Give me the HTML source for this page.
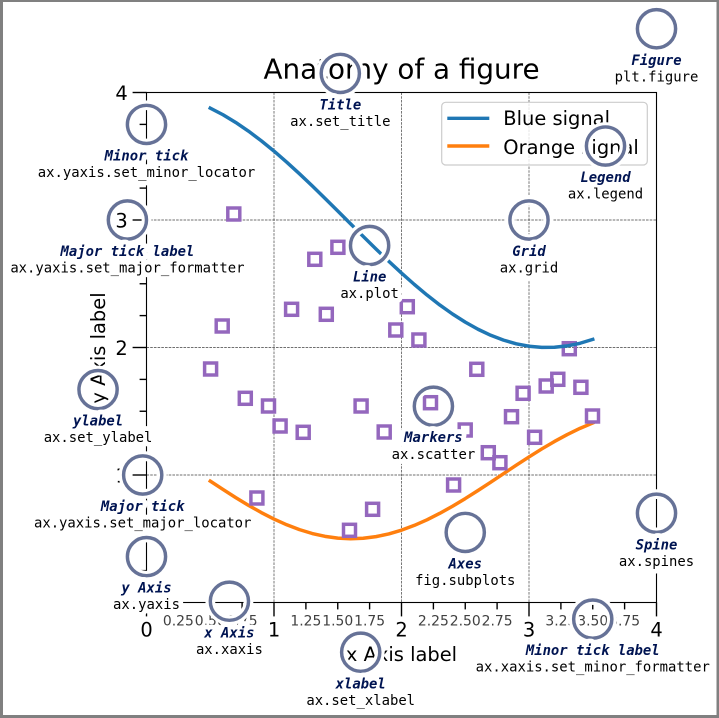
<!DOCTYPE html>
<html><head><meta charset="utf-8"><style>
html,body{margin:0;padding:0;background:#fff;}
svg{display:block;}
.tk{stroke:#000;stroke-width:1.39;}
.gr{stroke:#404040;stroke-width:0.7;stroke-dasharray:2.6 1.1;}
.mk{fill:none;stroke:#9467bd;stroke-width:3.47;}
.ml{font-family:"DejaVu Sans","Liberation Sans",sans-serif;font-size:19.44px;fill:#000;}
.mn{font-family:"DejaVu Sans","Liberation Sans",sans-serif;font-size:13.9px;fill:#404040;}
.lw{font-family:"DejaVu Sans Mono","Liberation Mono",monospace;font-size:13.9px;font-weight:bold;font-style:italic;fill:#fff;stroke:#fff;stroke-width:9.72;stroke-linejoin:round;}
.cw{font-family:"DejaVu Sans Mono","Liberation Mono",monospace;font-size:13.9px;fill:#fff;stroke:#fff;stroke-width:9.72;stroke-linejoin:round;}
.l{font-family:"DejaVu Sans Mono","Liberation Mono",monospace;font-size:13.9px;font-weight:bold;font-style:italic;fill:#001452;}
.c{font-family:"DejaVu Sans Mono","Liberation Mono",monospace;font-size:13.9px;fill:#000;}
.cw,.lw,.l,.c{text-anchor:middle;}
.ch{fill:none;stroke:#fff;stroke-width:9.72;}
.cr{fill:none;stroke:rgba(0,20,82,0.6);stroke-width:3.47;}
</style></head><body>
<svg width="719" height="718" viewBox="0 0 719 718" xmlns="http://www.w3.org/2000/svg">
<rect x="0" y="0" width="719" height="718" fill="#fff"/>
<!-- figure border -->
<rect x="0" y="0" width="719" height="2" fill="#808080"/>
<rect x="0" y="715" width="719" height="3" fill="#808080"/>
<rect x="0" y="0" width="3" height="718" fill="#808080"/>
<rect x="716.5" y="0" width="2.5" height="718" fill="#808080"/>

<!-- grid -->
<line class="gr" x1="274" y1="92.5" x2="274" y2="602.5"/>
<line class="gr" x1="401.5" y1="92.5" x2="401.5" y2="602.5"/>
<line class="gr" x1="529" y1="92.5" x2="529" y2="602.5"/>
<line class="gr" x1="146.5" y1="475" x2="656.5" y2="475"/>
<line class="gr" x1="146.5" y1="347.5" x2="656.5" y2="347.5"/>
<line class="gr" x1="146.5" y1="220" x2="656.5" y2="220"/>

<!-- orange line -->
<polyline fill="none" stroke="#ff7f0e" stroke-width="3.47" stroke-linejoin="round" stroke-linecap="square" points="210.25,481.10 223,489.48 235.75,497.61 248.5,505.34 261.25,512.52 274,519.04 286.75,524.78 299.5,529.63 312.25,533.51 325,536.36 337.75,538.11 350.5,538.75 363.25,538.25 376,536.63 388.75,533.92 401.5,530.16 414.25,525.42 427,519.79 439.75,513.36 452.5,506.25 465.25,498.59 478,490.51 490.75,482.15 503.5,473.67 516.25,465.20 529,456.92 541.75,448.94 554.5,441.45 567.25,434.54 580,428.35 592.75,422.98"/>

<!-- markers -->
<g class="mk">
<rect x="204.6" y="363" width="12" height="12"/>
<rect x="216.2" y="320" width="12" height="12"/>
<rect x="227.8" y="208" width="12" height="12"/>
<rect x="239.3" y="392.3" width="12" height="12"/>
<rect x="250.9" y="492" width="12" height="12"/>
<rect x="262.5" y="400" width="12" height="12"/>
<rect x="274.1" y="420" width="12" height="12"/>
<rect x="285.6" y="303.3" width="12" height="12"/>
<rect x="297.2" y="426.3" width="12" height="12"/>
<rect x="308.8" y="253.3" width="12" height="12"/>
<rect x="320.3" y="308.3" width="12" height="12"/>
<rect x="331.9" y="241.3" width="12" height="12"/>
<rect x="343.5" y="524.3" width="12" height="12"/>
<rect x="355.1" y="400" width="12" height="12"/>
<rect x="366.6" y="503.3" width="12" height="12"/>
<rect x="378.2" y="426" width="12" height="12"/>
<rect x="389.8" y="324" width="12" height="12"/>
<rect x="401.3" y="300.7" width="12" height="12"/>
<rect x="412.9" y="334" width="12" height="12"/>
<rect x="424.5" y="396.7" width="12" height="12"/>
<rect x="436.1" y="449" width="12" height="12"/>
<rect x="447.6" y="479" width="12" height="12"/>
<rect x="459.2" y="424" width="12" height="12"/>
<rect x="470.8" y="363.3" width="12" height="12"/>
<rect x="482.3" y="446.7" width="12" height="12"/>
<rect x="493.9" y="456.7" width="12" height="12"/>
<rect x="505.5" y="410.7" width="12" height="12"/>
<rect x="517.1" y="387.3" width="12" height="12"/>
<rect x="528.6" y="431.3" width="12" height="12"/>
<rect x="540.2" y="380" width="12" height="12"/>
<rect x="551.8" y="373.3" width="12" height="12"/>
<rect x="563.3" y="342.7" width="12" height="12"/>
<rect x="574.9" y="381.3" width="12" height="12"/>
<rect x="586.5" y="410" width="12" height="12"/>
</g>

<!-- spines -->
<rect x="146.5" y="92.5" width="510" height="510" fill="none" stroke="#000" stroke-width="1.11"/>

<!-- x ticks -->
<g class="tk">
<line x1="146.5" y1="602.5" x2="146.5" y2="616.4"/>
<line x1="274" y1="602.5" x2="274" y2="616.4"/>
<line x1="401.5" y1="602.5" x2="401.5" y2="616.4"/>
<line x1="529" y1="602.5" x2="529" y2="616.4"/>
<line x1="656.5" y1="602.5" x2="656.5" y2="616.4"/>
<line x1="178.4" y1="602.5" x2="178.4" y2="609.4"/>
<line x1="210.25" y1="602.5" x2="210.25" y2="609.4"/>
<line x1="242.1" y1="602.5" x2="242.1" y2="609.4"/>
<line x1="305.9" y1="602.5" x2="305.9" y2="609.4"/>
<line x1="337.75" y1="602.5" x2="337.75" y2="609.4"/>
<line x1="369.6" y1="602.5" x2="369.6" y2="609.4"/>
<line x1="433.4" y1="602.5" x2="433.4" y2="609.4"/>
<line x1="465.25" y1="602.5" x2="465.25" y2="609.4"/>
<line x1="497.1" y1="602.5" x2="497.1" y2="609.4"/>
<line x1="560.9" y1="602.5" x2="560.9" y2="609.4"/>
<line x1="592.75" y1="602.5" x2="592.75" y2="609.4"/>
<line x1="624.6" y1="602.5" x2="624.6" y2="609.4"/>
<!-- y ticks -->
<line x1="132.6" y1="602.5" x2="146.5" y2="602.5"/>
<line x1="132.6" y1="475" x2="146.5" y2="475"/>
<line x1="132.6" y1="347.5" x2="146.5" y2="347.5"/>
<line x1="132.6" y1="220" x2="146.5" y2="220"/>
<line x1="132.6" y1="92.5" x2="146.5" y2="92.5"/>
<line x1="139.6" y1="570.6" x2="146.5" y2="570.6"/>
<line x1="139.6" y1="538.75" x2="146.5" y2="538.75"/>
<line x1="139.6" y1="506.9" x2="146.5" y2="506.9"/>
<line x1="139.6" y1="443.1" x2="146.5" y2="443.1"/>
<line x1="139.6" y1="411.25" x2="146.5" y2="411.25"/>
<line x1="139.6" y1="379.4" x2="146.5" y2="379.4"/>
<line x1="139.6" y1="315.6" x2="146.5" y2="315.6"/>
<line x1="139.6" y1="283.75" x2="146.5" y2="283.75"/>
<line x1="139.6" y1="251.9" x2="146.5" y2="251.9"/>
<line x1="139.6" y1="188.1" x2="146.5" y2="188.1"/>
<line x1="139.6" y1="156.25" x2="146.5" y2="156.25"/>
<line x1="139.6" y1="124.4" x2="146.5" y2="124.4"/>
</g>

<!-- tick labels -->
<g class="ml" text-anchor="middle">
<text x="146.5" y="636.5">0</text>
<text x="274" y="636.5">1</text>
<text x="401.5" y="636.5">2</text>
<text x="529" y="636.5">3</text>
<text x="656.5" y="636.5">4</text>
</g>
<g class="ml" text-anchor="end">
<text x="127.7" y="609.8">0</text>
<text x="127.7" y="482.3">1</text>
<text x="127.7" y="354.8">2</text>
<text x="127.7" y="227.3">3</text>
<text x="127.7" y="99.8">4</text>
</g>
<g class="mn" text-anchor="middle">
<text x="178.4" y="625.3">0.25</text>
<text x="210.25" y="625.3">0.50</text>
<text x="242.1" y="625.3">0.75</text>
<text x="305.9" y="625.3">1.25</text>
<text x="337.75" y="625.3">1.50</text>
<text x="369.6" y="625.3">1.75</text>
<text x="433.4" y="625.3">2.25</text>
<text x="465.25" y="625.3">2.50</text>
<text x="497.1" y="625.3">2.75</text>
<text x="560.9" y="625.3">3.25</text>
<text x="592.75" y="625.3">3.50</text>
<text x="624.6" y="625.3">3.75</text>
</g>

<!-- axis labels & title -->
<text class="ml" x="401.5" y="661" text-anchor="middle">x Axis label</text>
<text class="ml" transform="translate(105,348) rotate(-90)" text-anchor="middle">y Axis label</text>
<text x="401.5" y="78.5" text-anchor="middle" style="font-family:'DejaVu Sans','Liberation Sans',sans-serif;font-size:27.8px;fill:#000;">Anatomy of a figure</text>

<!-- legend -->
<rect x="441.7" y="102.3" width="205.6" height="62.7" rx="4" ry="4" fill="rgba(255,255,255,0.8)" stroke="#cccccc" stroke-width="1.2"/>
<line x1="447.3" y1="118.3" x2="489.3" y2="118.3" stroke="#1f77b4" stroke-width="3.47"/>
<line x1="447.3" y1="146" x2="489.3" y2="146" stroke="#ff7f0e" stroke-width="3.47"/>
<text class="ml" x="503.3" y="125">Blue signal</text>
<text class="ml" x="503.3" y="154">Orange signal</text>

<!-- blue line -->
<polyline fill="none" stroke="#1f77b4" stroke-width="3.47" stroke-linejoin="round" stroke-linecap="square" points="210.25,108.11 223,114.77 235.75,122.48 248.5,131.17 261.25,140.74 274,151.11 286.75,162.17 299.5,173.80 312.25,185.89 325,198.33 337.75,210.98 350.5,223.72 363.25,236.43 376,248.97 388.75,261.22 401.5,273.06 414.25,284.37 427,295.03 439.75,304.95 452.5,314.02 465.25,322.15 478,329.25 490.75,335.27 503.5,340.13 516.25,343.80 529,346.22 541.75,347.39 554.5,347.28 567.25,345.90 580,343.27 592.75,339.40"/>

<!-- circles -->
<g>
<circle class="ch" cx="592.75" cy="619.1" r="19.1"/><circle class="cr" cx="592.75" cy="619.1" r="19.1"/>
<circle class="ch" cx="142.7" cy="475" r="19.1"/><circle class="cr" cx="142.7" cy="475" r="19.1"/>
<circle class="ch" cx="146.5" cy="124.4" r="19.1"/><circle class="cr" cx="146.5" cy="124.4" r="19.1"/>
<circle class="ch" cx="127.4" cy="220" r="19.1"/><circle class="cr" cx="127.4" cy="220" r="19.1"/>
<circle class="ch" cx="360.7" cy="652.2" r="19.1"/><circle class="cr" cx="360.7" cy="652.2" r="19.1"/>
<circle class="ch" cx="98.05" cy="389.6" r="19.1"/><circle class="cr" cx="98.05" cy="389.6" r="19.1"/>
<circle class="ch" cx="340.3" cy="73.4" r="19.1"/><circle class="cr" cx="340.3" cy="73.4" r="19.1"/>
<circle class="ch" cx="369.6" cy="245.5" r="19.1"/><circle class="cr" cx="369.6" cy="245.5" r="19.1"/>
<circle class="ch" cx="433.4" cy="406.2" r="19.1"/><circle class="cr" cx="433.4" cy="406.2" r="19.1"/>
<circle class="ch" cx="529" cy="220" r="19.1"/><circle class="cr" cx="529" cy="220" r="19.1"/>
<circle class="ch" cx="605.5" cy="146.05" r="19.1"/><circle class="cr" cx="605.5" cy="146.05" r="19.1"/>
<circle class="ch" cx="465.25" cy="532.4" r="19.1"/><circle class="cr" cx="465.25" cy="532.4" r="19.1"/>
<circle class="ch" cx="656.5" cy="28.75" r="19.1"/><circle class="cr" cx="656.5" cy="28.75" r="19.1"/>
<circle class="ch" cx="229.4" cy="601.2" r="19.1"/><circle class="cr" cx="229.4" cy="601.2" r="19.1"/>
<circle class="ch" cx="146.5" cy="556.6" r="19.1"/><circle class="cr" cx="146.5" cy="556.6" r="19.1"/>
<circle class="ch" cx="656.5" cy="513.25" r="19.1"/><circle class="cr" cx="656.5" cy="513.25" r="19.1"/>
</g>

<!-- annotation texts -->
<text class="lw" x="592.75" y="655.2">Minor tick label</text><text class="cw" x="592.75" y="671.7">ax.xaxis.set_minor_formatter</text>
<text class="l" x="592.75" y="655.2">Minor tick label</text><text class="c" x="592.75" y="671.7">ax.xaxis.set_minor_formatter</text>

<text class="lw" x="142.7" y="511.1">Major tick</text><text class="cw" x="142.7" y="527.6">ax.yaxis.set_major_locator</text>
<text class="l" x="142.7" y="511.1">Major tick</text><text class="c" x="142.7" y="527.6">ax.yaxis.set_major_locator</text>

<text class="lw" x="146.5" y="160.4">Minor tick</text><text class="cw" x="146.5" y="177">ax.yaxis.set_minor_locator</text>
<text class="l" x="146.5" y="160.4">Minor tick</text><text class="c" x="146.5" y="177">ax.yaxis.set_minor_locator</text>

<text class="lw" x="127.4" y="256.1">Major tick label</text><text class="cw" x="127.4" y="272.6">ax.yaxis.set_major_formatter</text>
<text class="l" x="127.4" y="256.1">Major tick label</text><text class="c" x="127.4" y="272.6">ax.yaxis.set_major_formatter</text>

<text class="lw" x="360.7" y="688.3">xlabel</text><text class="cw" x="360.7" y="704.9">ax.set_xlabel</text>
<text class="l" x="360.7" y="688.3">xlabel</text><text class="c" x="360.7" y="704.9">ax.set_xlabel</text>

<text class="lw" x="98.05" y="425.6">ylabel</text><text class="cw" x="98.05" y="442.2">ax.set_ylabel</text>
<text class="l" x="98.05" y="425.6">ylabel</text><text class="c" x="98.05" y="442.2">ax.set_ylabel</text>

<text class="lw" x="340.3" y="109.4">Title</text><text class="cw" x="340.3" y="126">ax.set_title</text>
<text class="l" x="340.3" y="109.4">Title</text><text class="c" x="340.3" y="126">ax.set_title</text>

<text class="lw" x="369.6" y="281.6">Line</text><text class="cw" x="369.6" y="298.1">ax.plot</text>
<text class="l" x="369.6" y="281.6">Line</text><text class="c" x="369.6" y="298.1">ax.plot</text>

<text class="lw" x="433.4" y="442.2">Markers</text><text class="cw" x="433.4" y="458.8">ax.scatter</text>
<text class="l" x="433.4" y="442.2">Markers</text><text class="c" x="433.4" y="458.8">ax.scatter</text>

<text class="lw" x="529" y="256.1">Grid</text><text class="cw" x="529" y="272.6">ax.grid</text>
<text class="l" x="529" y="256.1">Grid</text><text class="c" x="529" y="272.6">ax.grid</text>

<text class="lw" x="605.5" y="182.1">Legend</text><text class="cw" x="605.5" y="198.7">ax.legend</text>
<text class="l" x="605.5" y="182.1">Legend</text><text class="c" x="605.5" y="198.7">ax.legend</text>

<text class="lw" x="465.25" y="568.4">Axes</text><text class="cw" x="465.25" y="585">fig.subplots</text>
<text class="l" x="465.25" y="568.4">Axes</text><text class="c" x="465.25" y="585">fig.subplots</text>

<text class="lw" x="656.5" y="64.8">Figure</text><text class="cw" x="656.5" y="81.4">plt.figure</text>
<text class="l" x="656.5" y="64.8">Figure</text><text class="c" x="656.5" y="81.4">plt.figure</text>

<text class="lw" x="229.4" y="637.3">x Axis</text><text class="cw" x="229.4" y="653.9">ax.xaxis</text>
<text class="l" x="229.4" y="637.3">x Axis</text><text class="c" x="229.4" y="653.9">ax.xaxis</text>

<text class="lw" x="146.5" y="592.7">y Axis</text><text class="cw" x="146.5" y="609.2">ax.yaxis</text>
<text class="l" x="146.5" y="592.7">y Axis</text><text class="c" x="146.5" y="609.2">ax.yaxis</text>

<text class="lw" x="656.5" y="549.3">Spine</text><text class="cw" x="656.5" y="565.9">ax.spines</text>
<text class="l" x="656.5" y="549.3">Spine</text><text class="c" x="656.5" y="565.9">ax.spines</text>
</svg>
</body></html>
